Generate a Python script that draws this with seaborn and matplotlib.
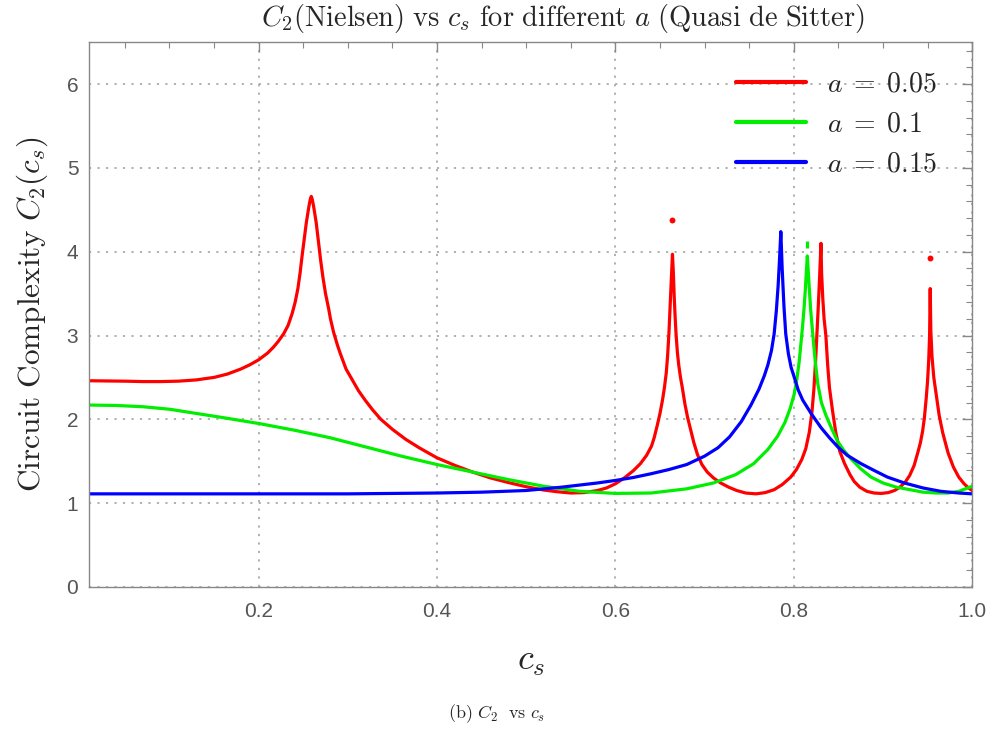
import numpy as np
import pandas as pd
import matplotlib
matplotlib.use("Agg")
import matplotlib.pyplot as plt
import seaborn as sns
from matplotlib.ticker import MultipleLocator

# ---------------- data ----------------
red_x = [0.0103, 0.03, 0.05, 0.07, 0.09, 0.11, 0.13, 0.15, 0.165, 0.18, 0.19, 0.20, 0.21,
         0.2165, 0.222, 0.228, 0.233, 0.2375, 0.241, 0.244, 0.2465, 0.2487, 0.2505, 0.252,
         0.2535, 0.255, 0.2565, 0.258, 0.259, 0.260, 0.2615, 0.263, 0.2645, 0.266, 0.2675,
         0.2695, 0.272, 0.275, 0.2785, 0.2805, 0.284, 0.2885, 0.2917, 0.298, 0.305, 0.312,
         0.32, 0.328, 0.337, 0.35, 0.365, 0.38, 0.40, 0.42, 0.44, 0.46, 0.48, 0.50, 0.52,
         0.535, 0.55, 0.565, 0.58, 0.59, 0.60, 0.61, 0.62, 0.628, 0.635, 0.6405, 0.6435,
         0.647, 0.650, 0.653, 0.655, 0.657, 0.6585, 0.660, 0.661, 0.662, 0.663, 0.664,
         0.665, 0.666, 0.667, 0.668, 0.6695, 0.671, 0.673, 0.675, 0.678, 0.681, 0.685,
         0.688, 0.692, 0.697, 0.703, 0.71, 0.718, 0.727, 0.736, 0.746, 0.7577, 0.768,
         0.778, 0.787, 0.7966, 0.803, 0.809, 0.8135, 0.8175, 0.8205, 0.8225, 0.8245, 0.826,
         0.8275, 0.829, 0.8305, 0.8312, 0.8325, 0.834, 0.836, 0.838, 0.840, 0.8435, 0.847,
         0.8515, 0.857, 0.863, 0.8676, 0.874, 0.882, 0.89, 0.898, 0.906, 0.913, 0.919,
         0.925, 0.930, 0.935, 0.939, 0.942, 0.9445, 0.9465, 0.9485, 0.950, 0.9513, 0.9523,
         0.953, 0.9537, 0.955, 0.957, 0.9597, 0.963, 0.967, 0.973, 0.979, 0.985, 0.991,
         0.996, 1.0]
red_y = [2.46, 2.458, 2.455, 2.45, 2.45, 2.455, 2.47, 2.50, 2.54, 2.60, 2.65, 2.71, 2.79,
         2.86, 2.93, 3.02, 3.12, 3.26, 3.40, 3.56, 3.75, 3.95, 4.10, 4.22,
         4.35, 4.45, 4.55, 4.63, 4.66, 4.63, 4.55, 4.45, 4.35, 4.22, 4.08,
         3.90, 3.70, 3.50, 3.32, 3.20, 3.04, 2.88, 2.78, 2.60, 2.47, 2.34,
         2.22, 2.11, 2.00, 1.88, 1.76, 1.66, 1.54, 1.45, 1.37, 1.30, 1.245, 1.195, 1.155,
         1.135, 1.12, 1.125, 1.15, 1.18, 1.23, 1.30, 1.385, 1.47, 1.57, 1.68, 1.78,
         1.93, 2.07, 2.24, 2.38, 2.55, 2.75, 3.02, 3.25, 3.50, 3.75, 3.97,
         3.75, 3.45, 3.22, 3.02, 2.80, 2.65, 2.50, 2.38, 2.18, 2.02, 1.85,
         1.72, 1.58, 1.46, 1.37, 1.30, 1.24, 1.19, 1.15, 1.12, 1.11, 1.125,
         1.16, 1.22, 1.31, 1.40, 1.52, 1.65, 1.85, 2.10, 2.35, 2.70, 3.02,
         3.35, 3.70, 4.10, 3.75, 3.45, 3.20, 3.00, 2.65, 2.38, 2.10, 1.85,
         1.62, 1.47, 1.34, 1.26, 1.19, 1.14, 1.12, 1.115, 1.125, 1.15, 1.19,
         1.25, 1.33, 1.45, 1.60, 1.72, 1.86, 2.02, 2.25, 2.45, 2.70, 3.00,
         3.56, 3.05, 2.75, 2.50, 2.30, 2.05, 1.84, 1.60, 1.43, 1.31, 1.23,
         1.18, 1.15]

green_x = [0.0103, 0.04, 0.07, 0.10, 0.13, 0.16, 0.20, 0.24, 0.28, 0.32, 0.36, 0.40, 0.44,
           0.48, 0.52, 0.56, 0.60, 0.64, 0.68, 0.71, 0.735, 0.755, 0.771, 0.782, 0.79, 0.796,
           0.8005, 0.8035, 0.806, 0.808, 0.8098, 0.8115, 0.813, 0.8142, 0.8152, 0.8162,
           0.8175, 0.819, 0.8213, 0.824, 0.827, 0.831, 0.836, 0.842, 0.849, 0.856, 0.864,
           0.875, 0.8866, 0.90, 0.915, 0.93, 0.945, 0.96, 0.973, 0.985, 1.0]
green_y = [2.17, 2.165, 2.15, 2.12, 2.07, 2.02, 1.95, 1.87, 1.78, 1.67, 1.56, 1.46, 1.37,
           1.28, 1.20, 1.14, 1.115, 1.12, 1.17, 1.24, 1.34, 1.47, 1.64, 1.80, 1.96, 2.13,
           2.30, 2.48, 2.68, 2.90, 3.10, 3.32, 3.55, 3.78, 3.95, 3.78,
           3.55, 3.30, 3.02, 2.70, 2.42, 2.20, 2.05, 1.90, 1.74, 1.63, 1.53,
           1.41, 1.31, 1.24, 1.19, 1.16, 1.13, 1.12, 1.12, 1.14, 1.20]

blue_x = [0.0103, 0.10, 0.20, 0.30, 0.40, 0.45, 0.50, 0.54, 0.58, 0.60, 0.62, 0.64, 0.66,
          0.68, 0.70, 0.715, 0.728, 0.741, 0.752, 0.761, 0.767, 0.771, 0.775, 0.778, 0.7805,
          0.7825, 0.784, 0.7855, 0.787, 0.789, 0.791, 0.794, 0.797, 0.8006, 0.805, 0.81,
          0.8194, 0.8306, 0.84, 0.8494, 0.86, 0.8755, 0.89, 0.905, 0.924, 0.945, 0.965,
          0.985, 1.0]
blue_y = [1.11, 1.11, 1.11, 1.11, 1.12, 1.13, 1.15, 1.19, 1.24, 1.27, 1.305, 1.35, 1.40,
          1.46, 1.56, 1.66, 1.79, 1.97, 2.17, 2.36, 2.52, 2.65, 2.82, 3.02, 3.30,
          3.60, 3.90, 4.24, 3.80, 3.35, 3.02, 2.78, 2.62, 2.50, 2.35, 2.23,
          2.07, 1.90, 1.78, 1.67, 1.57, 1.47, 1.39, 1.31, 1.24, 1.18, 1.14,
          1.12, 1.11]

# isolated sample points / fragments near the peaks
dot_x = [0.664, 0.953]
dot_y = [4.38, 3.93]
green_frag_x = [0.8152, 0.8152]
green_frag_y = [4.05, 4.13]

labels = [r"$a\;=\;0.05$", r"$a\;=\;0.1$", r"$a\;=\;0.15$"]
colors = ["#ff0000", "#00ee00", "#0000ff"]

# ---------------- figure ----------------
sns.set_theme(style="white")
plt.rcParams["mathtext.fontset"] = "cm"
plt.rcParams["font.family"] = ["Liberation Sans", "DejaVu Sans"]

fig = plt.figure(figsize=(9.94, 7.29), dpi=100)
ax = fig.add_axes([0.090, 0.195, 0.888, 0.747])

frames = []
for xs, ys, lab in zip([red_x, green_x, blue_x], [red_y, green_y, blue_y], labels):
    frames.append(pd.DataFrame({"cs": xs, "C2": ys, "series": lab}))
df = pd.concat(frames, ignore_index=True)

sns.lineplot(data=df, x="cs", y="C2", hue="series", hue_order=labels,
             palette=colors, linewidth=2.3, sort=False, estimator=None, ax=ax)
ax.plot(green_frag_x, green_frag_y, color=colors[1], linewidth=2.3, solid_capstyle="butt")
sns.scatterplot(x=dot_x, y=dot_y, color=colors[0], s=18, linewidth=0, ax=ax, legend=False)

ax.set_xlim(0.0103, 1.0)
ax.set_ylim(0, 6.5)

gray = "#888888"
for s in ax.spines.values():
    s.set_color(gray)
    s.set_linewidth(1.0)
ax.xaxis.set_major_locator(MultipleLocator(0.2))
ax.xaxis.set_minor_locator(MultipleLocator(0.05))
ax.yaxis.set_major_locator(MultipleLocator(1))
ax.yaxis.set_minor_locator(MultipleLocator(0.2))
ax.tick_params(which="both", direction="in", top=True, right=True, color=gray,
               labelcolor="#555555", labelsize=15)
ax.tick_params(which="major", length=7, width=1.0, pad=8)
ax.tick_params(axis="x", which="major", pad=11)
ax.tick_params(which="minor", length=4, width=0.8)
ax.set_xticks([0.2, 0.4, 0.6, 0.8, 1.0])
ax.set_xticklabels(["0.2", "0.4", "0.6", "0.8", "1.0"])
ax.set_yticks([0, 1, 2, 3, 4, 5, 6])
ax.set_yticklabels(["0", "1", "2", "3", "4", "5", "6"])

ax.grid(True, which="major", color="#aaaaaa", linewidth=1.3, linestyle=(0, (1.2, 3.5)))
ax.set_axisbelow(True)

ax.set_xlabel("$c_s$", fontsize=26, labelpad=16)
ax.set_ylabel(r"$\mathrm{Circuit\ Complexity}\ C_2(c_s)$", fontsize=22.5, labelpad=12)
ax.set_title(r"$C_2(\mathrm{Nielsen})\ \mathrm{vs}\ c_s\ \mathrm{for\ different}\ a\ (\mathrm{Quasi\ de\ Sitter})$",
             fontsize=20.5, pad=12, x=0.537)
fig.text(0.5, 0.006, r"$\mathrm{(b)}\ C_2\ \ \mathrm{vs}\ c_s$", ha="center", va="bottom", fontsize=13)

leg = ax.legend(loc="upper right", bbox_to_anchor=(1.0, 1.012), frameon=False, fontsize=20,
                handlelength=2.5, labelspacing=0.5, handletextpad=0.75, borderaxespad=0.9)
for line in leg.get_lines():
    line.set_linewidth(3.0)

fig.savefig("out.png", dpi=100)
